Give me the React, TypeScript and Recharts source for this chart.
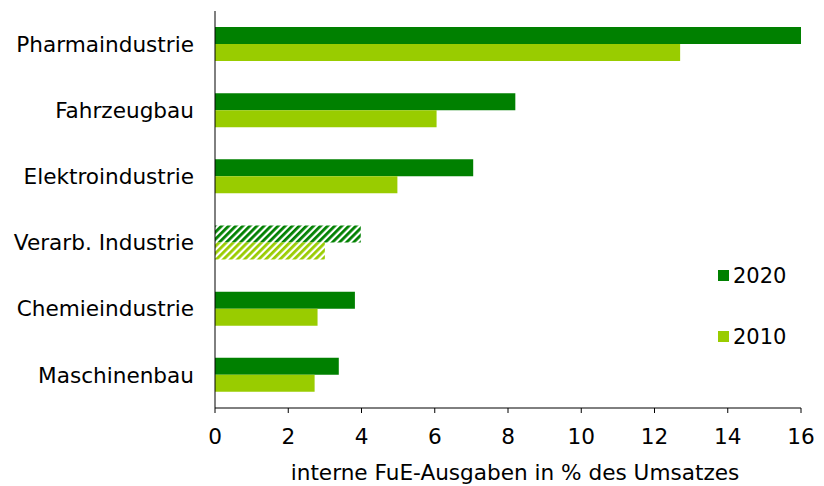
import React from "react";
import { Bar, BarChart, Cell, XAxis, YAxis } from "recharts";

const categories = [
  "Pharmaindustrie",
  "Fahrzeugbau",
  "Elektroindustrie",
  "Verarb. Industrie",
  "Chemieindustrie",
  "Maschinenbau",
];
const values2020 = [16.0, 8.2, 7.05, 3.98, 3.82, 3.38];
const values2010 = [12.7, 6.05, 4.98, 3.0, 2.8, 2.72];
const xTicks = [0, 2, 4, 6, 8, 10, 12, 14, 16];
const hatched = "Verarb. Industrie";

const data = categories.map((name, i) => ({
  name,
  y2020: values2020[i],
  y2010: values2010[i],
}));

const DARK = "#008000";
const LIGHT = "#99cc00";
const FONT = "DejaVu Sans, Verdana, sans-serif";
const FS = 21.6;

function LegendBox() {
  const items = [
    { label: "2020", color: DARK },
    { label: "2010", color: LIGHT },
  ];
  return (
    <div style={{ position: "absolute", left: 718, top: 245, fontFamily: FONT, fontSize: 21, color: "#000" }}>
      {items.map((it) => (
        <div key={it.label} style={{ display: "flex", alignItems: "center", height: 61 }}>
          <span style={{ width: 11, height: 11, background: it.color, marginRight: 4 }} />
          <span>{it.label}</span>
        </div>
      ))}
    </div>
  );
}

export default function App() {
  return (
    <div style={{ position: "absolute", left: 0, top: 0, width: 824, height: 486, background: "#fff" }}>
      <BarChart
        width={824}
        height={486}
        data={data}
        layout="vertical"
        margin={{ top: 11, right: 23, bottom: 0, left: 0 }}
        barGap={0}
        barCategoryGap={16}
      >
        <defs>
          <pattern id="hatchDark" width="5" height="5" patternUnits="userSpaceOnUse" patternTransform="rotate(45)">
            <rect width="5" height="5" fill="#fff" />
            <rect width="2.8" height="5" fill={DARK} />
          </pattern>
          <pattern id="hatchLight" width="5" height="5" patternUnits="userSpaceOnUse" patternTransform="rotate(45)">
            <rect width="5" height="5" fill="#fff" />
            <rect width="2.8" height="5" fill={LIGHT} />
          </pattern>
        </defs>
        <XAxis
          type="number"
          domain={[0, 16]}
          ticks={xTicks}
          interval={0}
          height={78}
          stroke="#000"
          tick={{ fill: "#000", fontSize: FS, fontFamily: FONT }}
          tickSize={5}
          tickMargin={16}
          label={{
            value: "interne FuE-Ausgaben in % des Umsatzes",
            position: "insideBottom",
            offset: 6,
            dx: 7,
            fill: "#000",
            fontSize: FS,
            fontFamily: FONT,
          }}
        />
        <YAxis
          type="category"
          dataKey="name"
          width={215}
          stroke="#000"
          tickLine={false}
          tickSize={0}
          tickMargin={21}
          interval={0}
          tick={{ fill: "#000", fontSize: FS, fontFamily: FONT }}
        />
        <Bar dataKey="y2020" name="2020" fill={DARK} isAnimationActive={false}>
          {data.map((d) => (
            <Cell key={d.name} fill={d.name === hatched ? "url(#hatchDark)" : DARK} />
          ))}
        </Bar>
        <Bar dataKey="y2010" name="2010" fill={LIGHT} isAnimationActive={false}>
          {data.map((d) => (
            <Cell key={d.name} fill={d.name === hatched ? "url(#hatchLight)" : LIGHT} />
          ))}
        </Bar>
      </BarChart>
      <LegendBox />
    </div>
  );
}
